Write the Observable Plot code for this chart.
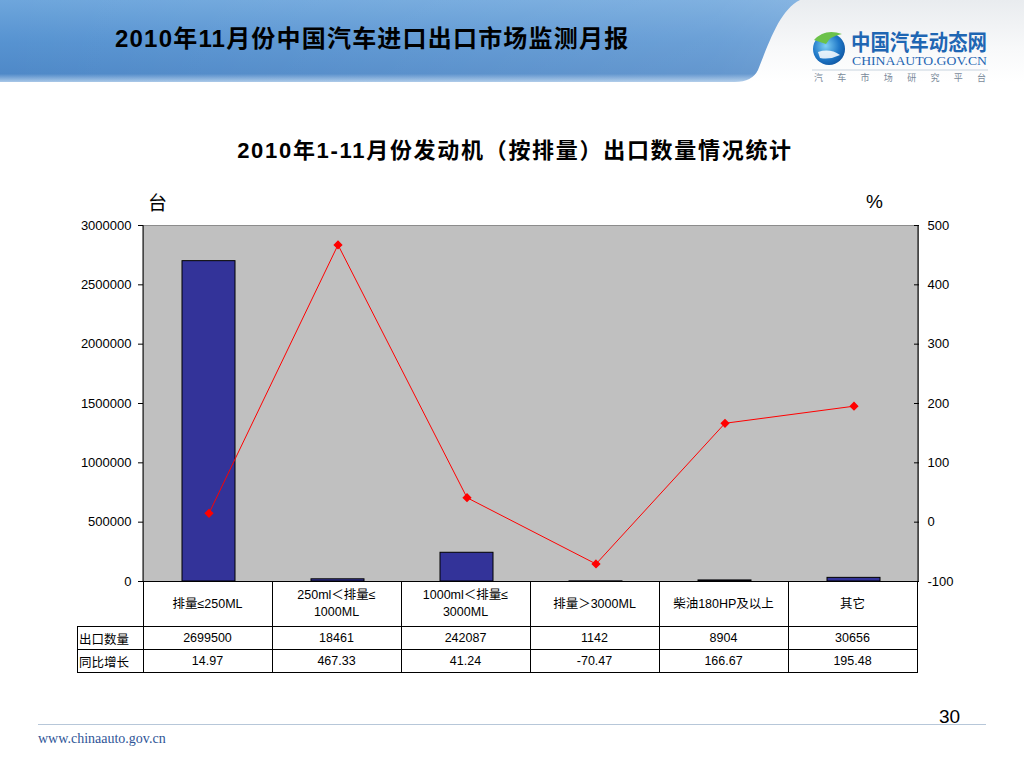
<!DOCTYPE html>
<html>
<head>
<meta charset="utf-8">
<script src="https://cdn.jsdelivr.net/npm/d3@7"></script>
<script src="https://cdn.jsdelivr.net/npm/@observablehq/plot@0.6"></script>
<style>
  html, body { margin: 0; padding: 0; background: #fff; }
  body { width: 1024px; height: 768px; position: relative; overflow: hidden;
         font-family: "Liberation Sans", Arial, "Noto Sans CJK SC", sans-serif; }
  .abs { position: absolute; }
  #title { left: 0; width: 1030px; top: 132px; text-align: center; font-weight: bold; font-size: 22px; letter-spacing: 1.7px; color: #000; }
  #hdrTitle { left: 115px; top: 19px; font-weight: bold; font-size: 24px; color: #000; letter-spacing: 1.2px; }
  #unitL { left: 148px; top: 188px; font-size: 19px; font-family: "Noto Sans CJK SC", sans-serif; }
  #unitR { left: 866px; top: 191px; font-size: 19px; }
  #chart { left: 0; top: 180px; }
  table.dt { position: absolute; left: 77px; top: 581px; border-collapse: collapse; font-size: 12.5px; }
  table.dt td { border: 1px solid #000; text-align: center; padding: 0; line-height: 17px; }
  table.dt td.blank { border: none; border-bottom: 1px solid #000; }
  table.dt td.rh { text-align: left; font-family: "Noto Sans CJK SC", sans-serif; font-size: 12.5px; padding-left: 1px; }
  #pageNo { left: 939px; top: 706px; font-size: 19px; }
  #url { left: 38px; top: 731px; font-family: "Liberation Serif", "DejaVu Serif", serif; font-size: 14px; color: #2f5597; }
</style>
</head>
<body>
<svg class="abs" style="left:0;top:0" width="1024" height="100">
  <defs>
    <linearGradient id="blueG" x1="0" y1="0" x2="0" y2="1">
      <stop offset="0" stop-color="#6ea6dc"/>
      <stop offset="0.5" stop-color="#5793d1"/>
      <stop offset="0.9" stop-color="#4f89c8"/>
      <stop offset="1" stop-color="#a9c8e8"/>
    </linearGradient>
    <linearGradient id="blueH" x1="0" y1="0" x2="1" y2="0">
      <stop offset="0" stop-color="#ffffff" stop-opacity="0"/>
      <stop offset="0.7" stop-color="#ffffff" stop-opacity="0.12"/>
      <stop offset="1" stop-color="#ffffff" stop-opacity="0.3"/>
    </linearGradient>
    <linearGradient id="whiteG" x1="0" y1="0" x2="0" y2="1">
      <stop offset="0" stop-color="#e9ecef"/>
      <stop offset="0.6" stop-color="#f8f9fa"/>
      <stop offset="1" stop-color="#ffffff"/>
    </linearGradient>
    <radialGradient id="globe" cx="0.4" cy="0.4" r="0.7">
      <stop offset="0" stop-color="#7fd0f5"/>
      <stop offset="0.6" stop-color="#1f78c8"/>
      <stop offset="1" stop-color="#0d4f9a"/>
    </radialGradient>
  </defs>
  <rect x="0" y="0" width="1024" height="82" fill="url(#blueG)"/>
  <rect x="0" y="0" width="1024" height="82" fill="url(#blueH)"/>
  <path d="M 800 0 C 780 10, 770 40, 758 70 Q 752 82, 735 82 L 1024 82 L 1024 0 Z" fill="url(#whiteG)"/>
  <rect x="0" y="82" width="1024" height="18" fill="#fff"/>
  <circle cx="829" cy="49" r="16" fill="url(#globe)"/>
  <path d="M 814 40 Q 825 28 842 34 Q 830 36 826 44 Z" fill="#6cc24a"/>
  <path d="M 818 52 Q 830 48 840 55 Q 830 60 820 58 Z" fill="#ffffff" opacity="0.85"/>
  <text x="851" y="50" font-family="Noto Sans CJK SC" font-weight="bold" font-size="22" fill="#1f66b3" textLength="136" lengthAdjust="spacingAndGlyphs">中国汽车动态网</text>
  <text x="852" y="65" font-family="Liberation Serif" font-size="12.5" fill="#1f66b3" textLength="135" lengthAdjust="spacingAndGlyphs">CHINAAUTO.GOV.CN</text>
  <line x1="812" y1="70" x2="988" y2="70" stroke="#c8d3de" stroke-width="1"/>
  <text x="814" y="81" font-family="Noto Sans CJK SC" font-size="9" fill="#7a8a9a" textLength="172" lengthAdjust="spacing">汽车市场研究平台</text>
</svg>
<div id="hdrTitle" class="abs">2010年11月份中国汽车进口出口市场监测月报</div>
<div id="title" class="abs">2010年1-11月份发动机（按排量）出口数量情况统计</div>
<div id="unitL" class="abs">台</div>
<div id="unitR" class="abs">%</div>
<div id="chart" class="abs"></div>
<div id="tableHost"></div>
<div class="abs" style="left:38px;top:724px;width:948px;height:1px;background:#b7c7d9"></div>
<div id="pageNo" class="abs">30</div>
<div id="url" class="abs">www.chinaauto.gov.cn</div>
<script>
// ---- data ----
const categories = ["排量≤250ML", "250ml＜排量≤\n1000ML", "1000ml＜排量≤\n3000ML", "排量＞3000ML", "柴油180HP及以上", "其它"];
const exportQty = [2699500, 18461, 242087, 1142, 8904, 30656];
const yoyGrowth = [14.97, 467.33, 41.24, -70.47, 166.67, 195.48];
const rowLabels = ["出口数量", "同比增长"];
const leftTicks = [0, 500000, 1000000, 1500000, 2000000, 2500000, 3000000];
const rightTicks = [-100, 0, 100, 200, 300, 400, 500];

// ---- scales ----
const leftMax = 3000000;
const pctMin = -100, pctMax = 500;
const pctToLeft = p => (p - pctMin) / (pctMax - pctMin) * leftMax;
const leftToPct = v => v / leftMax * (pctMax - pctMin) + pctMin;

const rows = categories.map((c, i) => ({cat: c, qty: exportQty[i], pct: yoyGrowth[i]}));

const chart = Plot.plot({
  width: 1024,
  height: 420,
  marginLeft: 143,
  marginRight: 106,
  marginTop: 45,
  marginBottom: 19,
  style: {fontFamily: "'Liberation Sans', Arial, sans-serif", fontSize: "13px", background: "transparent", color: "#000"},
  x: {domain: categories, paddingInner: 0.59, paddingOuter: 0.28, axis: null},
  y: {domain: [0, leftMax], axis: null},
  marks: [
    Plot.frame({fill: "#c0c0c0", stroke: "#8c8c8c"}),
    Plot.axisY(leftTicks, {anchor: "left", label: null, tickFormat: d => String(d), tickSize: 5, tickPadding: 7, fontSize: 13}),
    Plot.axisY(rightTicks.map(pctToLeft), {anchor: "right", label: null, tickFormat: d => String(Math.round(leftToPct(d))), tickSize: -5, tickPadding: 14, fontSize: 13}),
    Plot.barY(rows, {x: "cat", y: "qty", fill: "#333399", stroke: "#000", strokeWidth: 1}),
    Plot.lineY(rows, {x: "cat", y: d => pctToLeft(d.pct), stroke: "#ff0000", strokeWidth: 1}),
    Plot.dot(rows, {x: "cat", y: d => pctToLeft(d.pct), symbol: "diamond2", fill: "#ff0000", stroke: "#ff0000", r: 3.2}),
    Plot.ruleY([0], {stroke: "#000", strokeWidth: 1.2})
  ]
});
document.getElementById("chart").appendChild(chart);
{
  const svg = d3.select(chart);
  const x0 = 143, x1 = 1024 - 106, yt = 45, yb = 420 - 19;
  svg.append("line").attr("x1", x0).attr("x2", x0).attr("y1", yt).attr("y2", yb).attr("stroke", "#000");
  svg.append("line").attr("x1", x1).attr("x2", x1).attr("y1", yt).attr("y2", yb).attr("stroke", "#000");
}

// ---- table ----
const t = document.createElement("table");
t.className = "dt";
const colW = 129;
let html = "<tr style='height:45px'><td class='blank' style='width:65px'></td>";
categories.forEach(c => { html += `<td style='width:${colW - 1}px'>${c.replace("\n", "<br>")}</td>`; });
html += "</tr>";
html += `<tr style='height:23px'><td class='rh'>${rowLabels[0]}</td>` + exportQty.map(v => `<td>${v}</td>`).join("") + "</tr>";
html += `<tr style='height:23px'><td class='rh'>${rowLabels[1]}</td>` + yoyGrowth.map(v => `<td>${v.toFixed(2)}</td>`).join("") + "</tr>";
t.innerHTML = html;
document.getElementById("tableHost").appendChild(t);
</script>
</body>
</html>
